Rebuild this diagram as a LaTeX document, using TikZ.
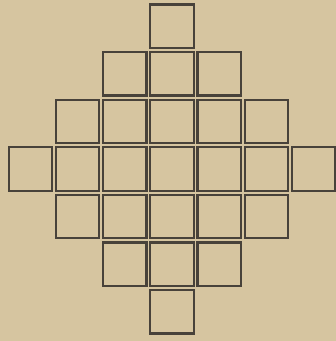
\documentclass[tikz,border=0pt]{standalone}
\begin{document}
\begin{tikzpicture}[x=1pt,y=1pt,
  cell/.style={draw={rgb,255:red,72;green,66;blue,58},line width=2.2pt,minimum size=43.5pt,inner sep=0pt,fill=none}]
\fill[fill={rgb,255:red,214;green,197;blue,160}] (0,0) rectangle (336,341);
\useasboundingbox (0,0) rectangle (336,341);
\foreach \r in {-3,...,3}{
  \pgfmathtruncatemacro{\k}{3-abs(\r)}
  \foreach \c in {-\k,...,\k}{
    \node[cell] (s\r\c) at ({172+47.2*\c},{172-47.6*\r}) {};
  }
}
\end{tikzpicture}
\end{document}
